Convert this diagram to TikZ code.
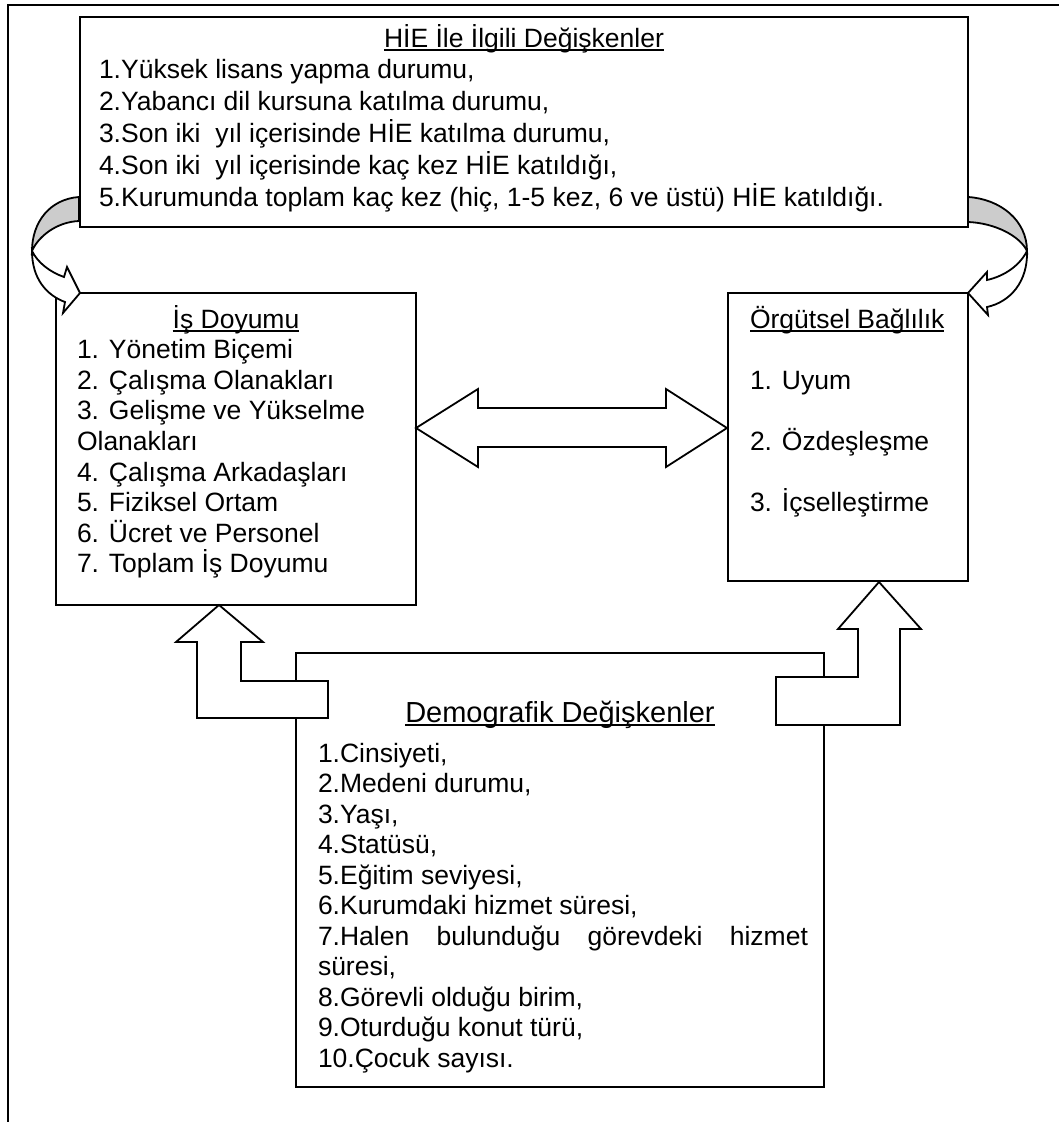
\documentclass[tikz,border=0pt]{standalone}
\usepackage{fontspec}
\setmainfont{Liberation Sans}
\begin{document}
\begin{tikzpicture}[x=1pt,y=-1pt,
  box/.style={draw, line width=2pt, fill=white, inner sep=0pt, outer sep=0pt, rectangle},
  topbox/.style={box, line width=2.4pt},
  txt/.style={inner sep=0pt, outer sep=0pt, anchor=base west, font=\fontsize{26.5}{30.5}\selectfont},
  ttl/.style={txt, anchor=base},
  uline/.style={line width=1.8pt},
  blk/.style={draw, line width=1.8pt, fill=white, line join=miter},
  band/.style={draw, line width=1.8pt, fill=black!20},
  frame/.style={line width=2.5pt}
]
\useasboundingbox (0,0) rectangle (1059,1122);
% outer frame
\coordinate (fa) at (8,1122);
\coordinate (fb) at (8,5);
\coordinate (fc) at (1059,5);
\draw[frame] (fa) -- (fb) -- (fc);

% grey back parts of the curved arrows
\draw[band] (79,197) .. controls (50,199) and (32,222) .. (32,251)
  .. controls (38,237) and (56,222) .. (79,221) -- cycle;
\draw[band] (968,197) .. controls (1000,199) and (1027,220) .. (1027,251)
  .. controls (1020,236) and (995,223) .. (968,222) -- cycle;

% top box
\node[topbox, minimum width=888pt, minimum height=210pt] (top) at (524,122) {};
\node[ttl] (t0) at (524,47) {HİE İle İlgili Değişkenler};
\draw[uline] ([yshift=-2.7pt]t0.base west) -- ([yshift=-2.7pt]t0.base east);
\foreach \s [count=\i] in {{1.Yüksek lisans yapma durumu,},
  {2.Yabancı dil kursuna katılma durumu,},
  {3.Son iki~ yıl içerisinde HİE katılma durumu,},
  {4.Son iki~ yıl içerisinde kaç kez HİE katıldığı,},
  {5.Kurumunda toplam kaç kez (hiç, 1-5 kez, 6 ve üstü) HİE katıldığı.}}
  \node[txt] (t\i) at (99,{47+31.8*\i}) {\s};

% left box
\node[box, minimum width=360pt, minimum height=312pt] (ij) at (236,449) {};
\node[ttl] (i0) at (236,328) {İş Doyumu};
\draw[uline] ([yshift=-2.7pt]i0.base west) -- ([yshift=-2.7pt]i0.base east);
\foreach \s [count=\i] in {{1. Yönetim Biçemi},{2. Çalışma Olanakları},
  {3. Gelişme ve Yükselme},{Olanakları},{4. Çalışma Arkadaşları},
  {5. Fiziksel Ortam},{6. Ücret ve Personel},{7. Toplam İş Doyumu}}
  \node[txt] (i\i) at (77,{328+30.6*\i}) {\s};

% right box
\node[box, minimum width=240pt, minimum height=288pt] (ob) at (848,437) {};
\node[txt] (o0) at (750,328) {Örgütsel Bağlılık};
\draw[uline] ([yshift=-2.7pt]o0.base west) -- ([yshift=-2.7pt]o0.base east);
\foreach \s [count=\i] in {{1. Uyum},{2. Özdeşleşme},{3. İçselleştirme}}
  \node[txt] (o\i) at (750,{328+61.2*\i}) {\s};

% white front parts of the curved arrows
\draw[blk] (32,251) .. controls (32,278) and (46,295) .. (65,302)
  -- (63,313) -- (80,293) -- (67,267) -- (64,277)
  .. controls (50,272) and (38,263) .. (32,251) -- cycle;
\draw[blk] (1027,251) .. controls (1028,282) and (1010,302) .. (987,307)
  -- (988,315) -- (968,293) -- (987,272) -- (987,280)
  .. controls (1005,276) and (1020,265) .. (1027,251) -- cycle;

% double arrow
\draw[blk] (416,428) -- (478,389) -- (478,408) -- (666,408) -- (666,389)
  -- (727,428) -- (666,467) -- (666,447) -- (478,447) -- (478,467) -- cycle;

% bottom box
\node[box, minimum width=528pt, minimum height=434pt] (demo) at (560,870) {};
\node[ttl, font=\fontsize{29}{33}\selectfont] (d0) at (560,722) {Demografik Değişkenler};
\draw[uline] ([yshift=-2.9pt]d0.base west) -- ([yshift=-2.9pt]d0.base east);
\foreach \s [count=\i from 0] in {{1.Cinsiyeti,},{2.Medeni durumu,},{3.Yaşı,},
  {4.Statüsü,},{5.Eğitim seviyesi,},{6.Kurumdaki hizmet süresi,},
  {\makebox[490pt][s]{7.Halen bulunduğu görevdeki hizmet}},{süresi,},
  {8.Görevli olduğu birim,},{9.Oturduğu konut türü,},{10.Çocuk sayısı.}}
  \node[txt] (d\i x) at (318,{762+30.5*\i}) {\s};

% bent block arrows
\draw[blk] (328,681) -- (241,681) -- (241,642) -- (263,642) -- (219,605)
  -- (176,642) -- (197,642) -- (197,718) -- (328,718) -- cycle;
\draw[blk] (776,677) -- (858,677) -- (858,629) -- (838,629) -- (879,582)
  -- (921,629) -- (900,629) -- (900,725) -- (776,725) -- cycle;
\end{tikzpicture}
\end{document}
